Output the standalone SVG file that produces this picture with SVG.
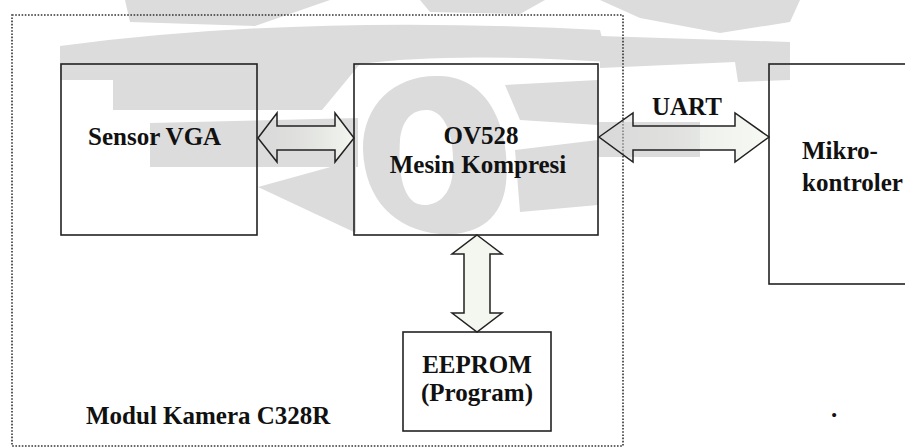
<svg xmlns="http://www.w3.org/2000/svg" width="905" height="448" viewBox="0 0 905 448">
<style>
.box{fill:none;stroke:#222;stroke-width:1.6}
.frame{fill:none;stroke:#333;stroke-width:1.6;stroke-dasharray:1.6 1.6}
.lbl{font-family:"Liberation Serif","Times New Roman",serif;font-weight:bold;font-size:25px;fill:#111}
.arr{fill:url(#ag);stroke:#222;stroke-width:1.5;stroke-linejoin:miter}
.wm{fill:#dcdcdc}
</style>
<defs>
<linearGradient id="ag" x1="0" y1="0" x2="1" y2="0">
<stop offset="0" stop-color="#d4d4d4" stop-opacity="0.4"/>
<stop offset="1" stop-color="#f6faf2" stop-opacity="0.9"/>
</linearGradient>
</defs>
<rect width="905" height="448" fill="#fff"/>
<g id="watermark">
<path class="wm" d="M125,0 L330,0 L255,26 L130,22 Z"/>
<path class="wm" d="M420,0 L545,0 L520,14 L430,12 Z"/>
<path class="wm" d="M600,0 L800,0 L790,22 L720,33 L640,18 Z"/>
<path class="wm" d="M60,46 Q300,14 600,30 L608,62 Q450,52 360,64 L322,110 L113,110 L113,80 L60,80 Z"/>
<path class="wm" d="M150,123 L358,118 L358,167 L150,167 Z"/>
<path class="wm" d="M258,187 L356,160 L356,233 Z"/>
<path class="wm" fill-rule="evenodd" d="M440,76 C500,78 512,150 505,190 C498,225 470,236 440,234 C395,230 365,200 363,150 C362,105 395,74 440,76 Z M428,110 C450,112 456,150 452,178 C448,200 432,208 418,204 C402,198 398,170 400,140 C402,120 412,109 428,110 Z"/>
<path class="wm" d="M505,85 L598,80 L598,125 L520,120 Z"/>
<path class="wm" d="M515,150 L598,140 L598,205 L520,212 Z"/>
<path class="wm" d="M600,36 L790,42 L790,80 L738,82 L735,62 L600,68 Z"/>
<path class="wm" d="M598,122 L700,122 L700,157 L598,157 Z"/>
</g>
<rect class="frame" x="12" y="15" width="611" height="431"/>
<g id="sensor">
<rect class="box" x="61" y="64" width="196" height="171"/>
<text class="lbl" x="88" y="145">Sensor VGA</text>
</g>
<g id="ov528">
<rect class="box" x="354" y="64" width="244" height="171"/>
<text class="lbl" x="481" y="144" text-anchor="middle">OV528</text>
<text class="lbl" x="478" y="173" text-anchor="middle">Mesin Kompresi</text>
</g>
<g id="mikro">
<rect class="box" x="769" y="64" width="145" height="220"/>
<text class="lbl" x="802" y="159">Mikro-</text>
<text class="lbl" x="802" y="191">kontroler</text>
</g>
<g id="eeprom">
<rect class="box" x="403" y="332" width="148" height="99"/>
<text class="lbl" x="477" y="373" text-anchor="middle">EEPROM</text>
<text class="lbl" x="477" y="401" text-anchor="middle">(Program)</text>
</g>
<g id="modul">
<text class="lbl" x="86" y="424">Modul Kamera C328R</text>
</g>
<text class="lbl" x="831" y="417" font-size="20">.</text>
<g id="connectors">
<path class="arr" d="M258,138 L277,113 L277,126 L335,126 L335,113 L354,138 L335,162 L335,150 L277,150 L277,162 Z"/>
<path class="arr" d="M599,137 L633,113 L633,126 L735,126 L735,113 L769,137 L735,162 L735,150 L633,150 L633,162 Z"/>
<path class="arr" d="M477,235 L502,254 L490,254 L490,313 L502,313 L477,332 L452,313 L464,313 L464,254 L452,254 Z" style="fill:#f3f7ef"/>
<text class="lbl" x="687" y="115" text-anchor="middle">UART</text>
</g>
</svg>
